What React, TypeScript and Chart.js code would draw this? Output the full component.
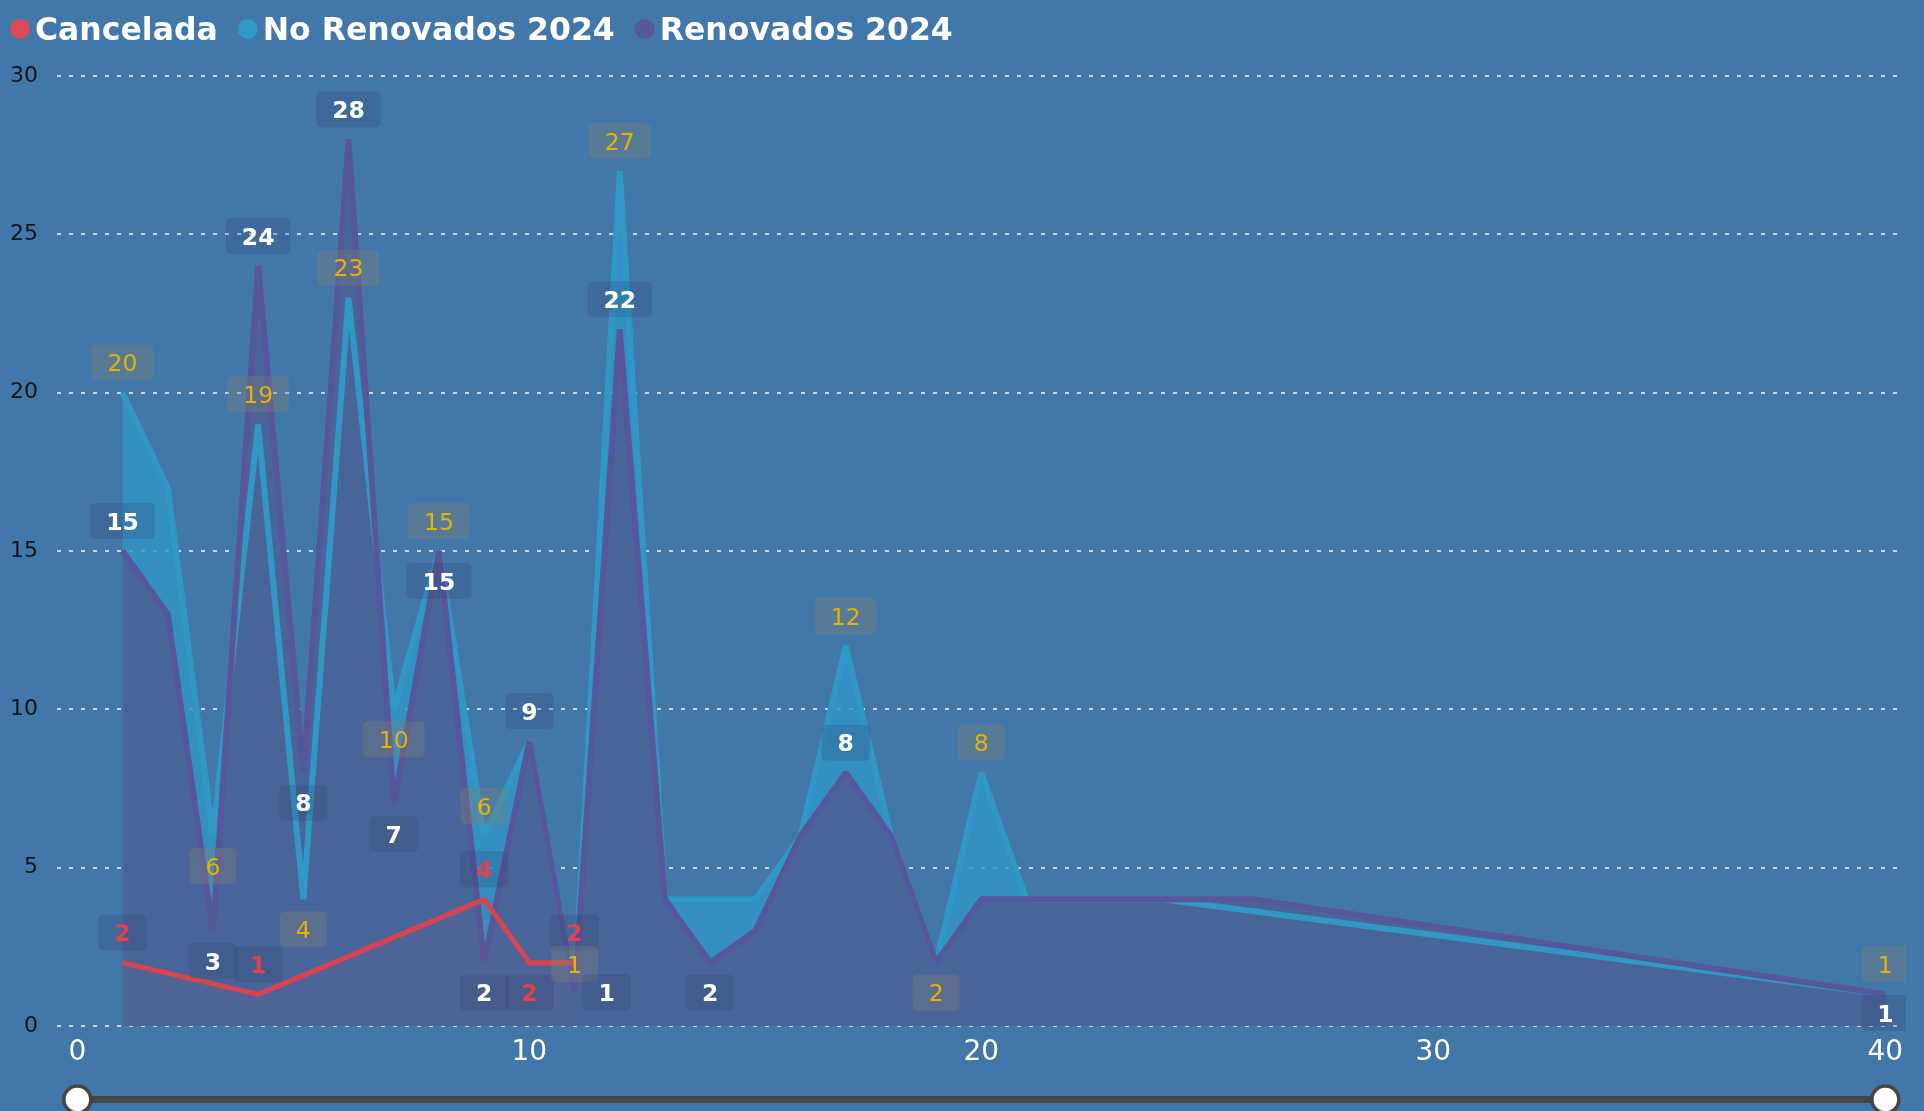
import React, { useEffect, useRef } from 'react';
import { Chart, registerables } from 'chart.js';

Chart.register(...registerables);

// ---- data ----
const seriesNames = ['Cancelada', 'No Renovados 2024', 'Renovados 2024'];

const canceladaX = [1, 4, 9, 10, 11];
const canceladaY = [2, 1, 4, 2, 2];
const canceladaLabelPos = ['top', 'top', 'top', 'bottom', 'top'];

const noRenovadosX = [1, 2, 3, 4, 5, 6, 7, 8, 9, 10, 11, 12, 13, 14, 15, 16, 17, 18, 19, 20, 21, 24, 40];
const noRenovadosY = [20, 17, 6, 19, 4, 23, 10, 15, 6, 9, 1, 27, 4, 4, 4, 6, 12, 6, 2, 8, 4, 4, 1];
const noRenovadosLabelPos = ['top', '', 'bottom', 'top', 'bottom', 'top', 'bottom', 'top', 'top', '', 'top', 'top', '', '', '', '', 'top', '', 'bottom', 'top', '', '', 'top'];

const renovadosX = [1, 2, 3, 4, 5, 6, 7, 8, 9, 10, 11, 12, 13, 14, 15, 16, 17, 18, 19, 20, 26, 40];
const renovadosY = [15, 13, 3, 24, 8, 28, 7, 15, 2, 9, 1, 22, 4, 2, 3, 6, 8, 6, 2, 4, 4, 1];
const renovadosLabelPos = ['top', '', 'bottom', 'top', 'bottom', 'top', 'bottom', 'bottom', 'bottom', 'top', 'right', 'top', '', 'bottom', '', '', 'top', '', '', '', '', 'bottom'];

const xTicks = [0, 10, 20, 30, 40];
const yMin = 0;
const yMax = 30;
const yStep = 5;

// ---- styles ----
const FONT = '"DejaVu Sans", Verdana, sans-serif';
const BG = '#4278a9';
const RED = '#da4450';
const BLUE = '#3198c6';
const PURPLE = '#56579b';
const legendColors = ['#dd4a55', '#3399c7', '#57579b'];

const labelStyles = [
  { color: '#e2404e', weight: 'bold', box: 'rgba(45,60,105,0.22)' },
  { color: '#e4b208', weight: 'normal', box: 'rgba(130,128,115,0.33)' },
  { color: '#ffffff', weight: 'bold', box: 'rgba(45,60,105,0.22)' },
];

const toPoints = (xs: number[], ys: number[]) => xs.map((x, i) => ({ x, y: ys[i] }));

const labelPlugin = {
  id: 'valueLabels',
  afterDatasetsDraw(chart: any) {
    const ctx = chart.ctx;
    const xs = chart.scales.x;
    const ys = chart.scales.y;
    const area = chart.chartArea;
    const groups = [
      { x: canceladaX, y: canceladaY, pos: canceladaLabelPos, st: labelStyles[0] },
      { x: noRenovadosX, y: noRenovadosY, pos: noRenovadosLabelPos, st: labelStyles[1] },
      { x: renovadosX, y: renovadosY, pos: renovadosLabelPos, st: labelStyles[2] },
    ];
    const size = 23.5;
    const h = 36;
    const padX = 16;
    ctx.save();
    ctx.beginPath();
    ctx.rect(0, 0, area.right + 8, chart.height);
    ctx.clip();
    for (const g of groups) {
      ctx.font = `${g.st.weight} ${size}px ${FONT}`;
      for (let i = 0; i < g.x.length; i++) {
        const p = g.pos[i];
        if (!p) continue;
        const px = xs.getPixelForValue(g.x[i]);
        const py = ys.getPixelForValue(g.y[i]);
        const text = String(g.y[i]);
        const tw = ctx.measureText(text).width;
        const w = tw + padX * 2;
        let cx = px;
        let cy = py;
        if (p === 'top') cy = py - 30;
        else if (p === 'bottom') cy = Math.min(py + 30, area.bottom - 13);
        else if (p === 'right') { cx = px + w / 2 + 8; cy = py - 2; }
        ctx.fillStyle = g.st.box;
        ctx.beginPath();
        (ctx as any).roundRect(cx - w / 2, cy - h / 2, w, h, 5);
        ctx.fill();
        ctx.fillStyle = g.st.color;
        ctx.textAlign = 'center';
        ctx.textBaseline = 'alphabetic';
        ctx.fillText(text, cx, cy + size * 0.729 / 2);
      }
    }
    ctx.restore();
  },
};

const legendPlugin = {
  id: 'topLegend',
  afterDraw(chart: any) {
    const ctx = chart.ctx;
    ctx.save();
    ctx.font = `bold 31.5px ${FONT}`;
    ctx.textBaseline = 'alphabetic';
    ctx.textAlign = 'left';
    let dotX = 20;
    const cy = 29;
    for (let i = 0; i < seriesNames.length; i++) {
      ctx.fillStyle = legendColors[i];
      ctx.beginPath();
      ctx.arc(dotX, cy, 10, 0, Math.PI * 2);
      ctx.fill();
      const tx = dotX + 15;
      ctx.fillStyle = '#ffffff';
      ctx.fillText(seriesNames[i], tx, 40);
      dotX = tx + ctx.measureText(seriesNames[i]).width + 30;
    }
    ctx.restore();
  },
};

const sliderPlugin = {
  id: 'slider',
  afterDraw(chart: any) {
    const ctx = chart.ctx;
    const xs = chart.scales.x;
    const x0 = xs.getPixelForValue(xTicks[0]);
    const x1 = xs.getPixelForValue(xTicks[xTicks.length - 1]);
    const y = chart.chartArea.bottom + 73.5;
    ctx.save();
    ctx.strokeStyle = '#464544';
    ctx.lineWidth = 7;
    ctx.beginPath();
    ctx.moveTo(x0, y);
    ctx.lineTo(x1, y);
    ctx.stroke();
    for (const hx of [x0, x1]) {
      ctx.beginPath();
      ctx.arc(hx, y, 13.5, 0, Math.PI * 2);
      ctx.fillStyle = '#ffffff';
      ctx.fill();
      ctx.lineWidth = 3.5;
      ctx.strokeStyle = '#464544';
      ctx.stroke();
    }
    ctx.restore();
  },
};

export default function App() {
  const ref = useRef<HTMLCanvasElement | null>(null);

  useEffect(() => {
    document.body.style.margin = '0';
    document.body.style.background = BG;
    document.body.style.overflow = 'hidden';
    const canvas = ref.current;
    if (!canvas) return;
    const chart = new Chart(canvas, {
      type: 'line',
      data: {
        datasets: [
          {
            label: seriesNames[0],
            data: toPoints(canceladaX, canceladaY),
            borderColor: RED,
            backgroundColor: 'rgba(218,68,80,0.04)',
            fill: 'origin',
            borderWidth: 5,
            pointRadius: 0,
            borderJoinStyle: 'bevel',
            tension: 0,
          },
          {
            label: seriesNames[2],
            data: toPoints(renovadosX, renovadosY),
            borderColor: PURPLE,
            backgroundColor: 'rgba(74,99,152,0.95)',
            fill: 'origin',
            borderWidth: 6,
            pointRadius: 0,
            borderJoinStyle: 'bevel',
            tension: 0,
          },
          {
            label: seriesNames[1],
            data: toPoints(noRenovadosX, noRenovadosY),
            borderColor: BLUE,
            backgroundColor: 'rgba(49,150,198,0.8)',
            fill: 'origin',
            borderWidth: 6,
            pointRadius: 0,
            borderJoinStyle: 'bevel',
            tension: 0,
          },
        ],
      },
      options: {
        responsive: false,
        animation: false,
        events: [],
        layout: { padding: { top: 76, right: 26, left: 0, bottom: 0 } },
        plugins: {
          legend: { display: false },
          tooltip: { enabled: false },
          filler: { drawTime: 'beforeDatasetsDraw' },
        },
        scales: {
          x: {
            type: 'linear',
            min: -0.45,
            max: 40.28,
            afterBuildTicks: (s: any) => {
              s.ticks = xTicks.map((v) => ({ value: v }));
            },
            afterFit: (s: any) => {
              s.height = 85;
            },
            grid: { display: false },
            border: { display: false },
            ticks: {
              color: '#ffffff',
              font: { family: FONT, size: 28 },
              padding: 2,
              maxRotation: 0,
              autoSkip: false,
            },
          },
          y: {
            type: 'linear',
            min: yMin,
            max: yMax,
            afterFit: (s: any) => {
              s.width = 57;
            },
            ticks: {
              stepSize: yStep,
              color: '#151515',
              font: { family: FONT, size: 22 },
              padding: 19,
            },
            grid: { color: 'rgba(222,222,222,0.9)', lineWidth: 2, drawTicks: false },
            border: { display: false, dash: [4, 8] },
          },
        },
      } as any,
      plugins: [labelPlugin, legendPlugin, sliderPlugin],
    });
    return () => chart.destroy();
  }, []);

  return (
    <div style={{ width: 1924, height: 1111, background: BG }}>
      <canvas ref={ref} width={1924} height={1111} style={{ display: 'block' }} />
    </div>
  );
}
